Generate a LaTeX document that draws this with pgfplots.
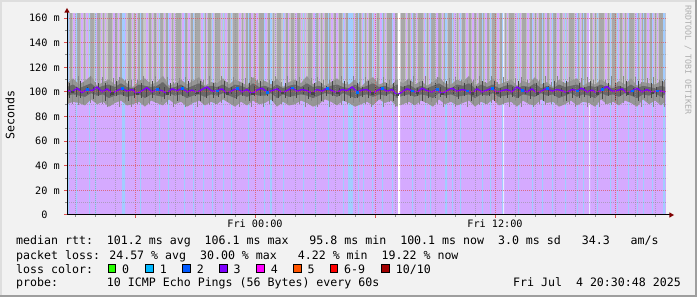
\documentclass[border=0pt]{standalone}
\usepackage{fontspec}
\usepackage{pgfplots}
\pgfplotsset{compat=1.18}
\usetikzlibrary{arrows.meta}
\newfontfamily\dvm{DejaVu Sans Mono}
\newcommand\legfont{\dvm\fontsize{11.6bp}{14bp}\selectfont}
\newcommand\axfont{\dvm\fontsize{10.2bp}{12bp}\selectfont}
\newcommand\wmfont{\dvm\fontsize{8.3bp}{10bp}\selectfont}
\definecolor{bgcol}{RGB}{242,242,242}
\definecolor{shadea}{RGB}{222,222,222}
\definecolor{shadeb}{RGB}{158,158,158}
\definecolor{lgray}{RGB}{200,200,200}
\definecolor{mgray}{RGB}{168,168,168}
\definecolor{purplebg}{RGB}{213,170,255}
\definecolor{bluebg}{RGB}{162,205,255}
\definecolor{lightst}{RGB}{232,236,255}
\definecolor{smokea}{RGB}{150,150,150}
\definecolor{smokeb}{RGB}{105,105,105}
\definecolor{spikel}{RGB}{135,135,135}
\definecolor{spiked}{RGB}{70,70,70}
\definecolor{medpurple}{RGB}{126,0,255}
\definecolor{medblue}{RGB}{0,110,255}
\definecolor{mgridc}{RGB}{222,80,80}
\definecolor{gridc}{RGB}{143,143,143}
\definecolor{arrowred}{RGB}{127,0,0}
\definecolor{wmgray}{RGB}{175,175,175}
\definecolor{lc0}{RGB}{38,255,0}
\definecolor{lc1}{RGB}{0,184,255}
\definecolor{lc2}{RGB}{0,89,255}
\definecolor{lc3}{RGB}{126,0,255}
\definecolor{lc4}{RGB}{255,0,255}
\definecolor{lc5}{RGB}{255,85,0}
\definecolor{lc6}{RGB}{255,0,0}
\definecolor{lc10}{RGB}{161,0,0}
\begin{document}
\begin{tikzpicture}
\fill[bgcol] (0,0) rectangle (697bp,297bp);
\fill[shadea] (0,0) rectangle (2bp,297bp);
\fill[shadea] (0,295bp) rectangle (697bp,297bp);
\fill[shadeb] (0,0) rectangle (697bp,2bp);
\fill[shadeb] (695bp,0) rectangle (697bp,297bp);
\begin{axis}[
  at={(67bp,82bp)}, anchor=south west,
  scale only axis, width=600bp, height=201bp,
  xmin=0, xmax=600, ymin=0, ymax=163.3,
  axis line style={draw=none},
  axis on top,
  xtick={68,188,308,428,548},
  xticklabels={,Fri 00:00,,Fri 12:00,},
  minor xtick={8,28,48,88,108,128,148,168,208,228,248,268,288,328,348,368,388,408,448,468,488,508,528,568,588},
  ytick={0,20,40,60,80,100,120,140,160},
  yticklabels={0\hphantom{~m},20 m,40 m,60 m,80 m,100 m,120 m,140 m,160 m},
  minor ytick={10,30,50,70,90,110,130,150},
  grid=both,
  major grid style={draw=mgridc, opacity=0.7, dash pattern=on 1bp off 1bp, line width=1bp},
  minor grid style={draw=gridc, opacity=0.55, dash pattern=on 1bp off 1bp, line width=1bp},
  tick align=outside, tick pos=left,
  major tick length=3bp, minor tick length=2bp,
  major tick style={draw=mgridc, line width=1bp},
  minor tick style={draw=gridc, line width=1bp},
  ticklabel style={font=\axfont},
  yticklabel style={inner sep=0pt, xshift=-4bp},
  xticklabel style={inner sep=0pt, yshift=-2bp},
]
% light gray base
\addplot[fill=lgray, draw=none] coordinates {(0,170)(599,170)} \closedcycle;
% mid gray smoke stripes
\addplot[const plot, fill=mgray, draw=none] coordinates {(0,0)(3,170)(5,0)(9,170)(13,0)(17,170)(18,0)(22,170)(27,0)(30,170)(33,0)(36,170)(37,0)(41,170)(45,0)(48,170)(50,0)(53,170)(56,0)(61,170)(64,0)(67,170)(68,0)(71,170)(76,0)(82,170)(84,0)(87,170)(89,0)(92,170)(96,0)(99,170)(101,0)(105,170)(106,0)(109,170)(114,0)(117,170)(120,0)(124,170)(126,0)(128,170)(133,0)(138,170)(139,0)(141,170)(144,0)(148,170)(153,0)(156,170)(157,0)(161,170)(163,0)(166,170)(171,0)(175,170)(176,0)(179,170)(184,0)(187,170)(188,0)(192,170)(197,0)(201,170)(203,0)(206,170)(207,0)(210,170)(214,0)(219,170)(221,0)(224,170)(227,0)(230,170)(233,0)(236,170)(237,0)(241,170)(245,0)(249,170)(251,0)(254,170)(255,0)(258,170)(263,0)(267,170)(269,0)(272,170)(275,0)(279,170)(281,0)(284,170)(286,0)(289,170)(294,0)(298,170)(299,0)(302,170)(306,0)(310,170)(312,0)(315,170)(317,0)(320,170)(325,0)(328,170)(330,0)(334,170)(338,0)(341,170)(343,0)(346,170)(348,0)(351,170)(356,0)(360,170)(361,0)(364,170)(368,0)(371,170)(374,0)(377,170)(378,0)(381,170)(386,0)(390,170)(391,0)(395,170)(398,0)(402,170)(404,0)(407,170)(409,0)(412,170)(417,0)(420,170)(422,0)(425,170)(429,0)(433,170)(435,0)(438,170)(439,0)(442,170)(447,0)(451,170)(452,0)(455,170)(459,0)(463,170)(465,0)(468,170)(469,0)(472,170)(477,0)(480,170)(482,0)(485,170)(489,0)(493,170)(495,0)(498,170)(499,0)(502,170)(507,0)(511,170)(512,0)(515,170)(519,0)(522,170)(525,0)(528,170)(529,0)(532,170)(537,0)(541,170)(542,0)(545,170)(549,0)(553,170)(555,0)(558,170)(559,0)(562,170)(567,0)(571,170)(572,0)(575,170)(579,0)(583,170)(585,0)(588,170)(589,0)(592,170)(596,0)(599,0)} \closedcycle;
% purple gaps
\addplot[const plot, fill=purplebg, draw=none] coordinates {(0,0)(1,170)(2,0)(6,170)(8,0)(14,170)(16,0)(19,170)(21,0)(28,170)(30,0)(34,170)(35,0)(38,170)(39,0)(46,170)(48,0)(51,170)(52,0)(57,170)(59,0)(65,170)(66,0)(69,170)(70,0)(79,170)(81,0)(85,170)(86,0)(90,170)(91,0)(97,170)(98,0)(102,170)(104,0)(107,170)(108,0)(115,170)(117,0)(121,170)(123,0)(126,170)(127,0)(134,170)(136,0)(139,170)(140,0)(145,170)(147,0)(154,170)(155,0)(158,170)(160,0)(164,170)(165,0)(172,170)(174,0)(177,170)(178,0)(184,170)(186,0)(189,170)(191,0)(198,170)(200,0)(204,170)(205,0)(208,170)(209,0)(216,170)(218,0)(221,170)(222,0)(228,170)(230,0)(234,170)(235,0)(238,170)(239,0)(246,170)(248,0)(252,170)(253,0)(256,170)(257,0)(264,170)(266,0)(269,170)(271,0)(276,170)(278,0)(282,170)(284,0)(287,170)(288,0)(295,170)(297,0)(300,170)(301,0)(307,170)(309,0)(313,170)(315,0)(318,170)(319,0)(326,170)(328,0)(332,170)(333,0)(339,170)(340,0)(344,170)(346,0)(349,170)(350,0)(357,170)(359,0)(362,170)(363,0)(369,170)(371,0)(375,170)(376,0)(379,170)(380,0)(387,170)(389,0)(392,170)(394,0)(399,170)(401,0)(405,170)(407,0)(410,170)(411,0)(418,170)(420,0)(423,170)(424,0)(430,170)(432,0)(436,170)(437,0)(440,170)(441,0)(448,170)(450,0)(453,170)(454,0)(460,170)(462,0)(466,170)(467,0)(470,170)(471,0)(478,170)(480,0)(483,170)(484,0)(490,170)(492,0)(496,170)(497,0)(500,170)(501,0)(508,170)(510,0)(513,170)(514,0)(520,170)(522,0)(526,170)(527,0)(530,170)(531,0)(538,170)(540,0)(543,170)(544,0)(550,170)(552,0)(556,170)(557,0)(560,170)(561,0)(568,170)(570,0)(573,170)(574,0)(580,170)(582,0)(586,170)(587,0)(590,170)(591,0)(597,170)(598,0)(599,0)} \closedcycle;
% lower loss-colour background
\addplot[fill=purplebg, draw=none] coordinates {(0,100)(599,100)} \closedcycle;
% loss 1 stripes
\addplot[const plot, fill=bluebg, draw=none] coordinates {(0,170)(2,0)(9,170)(10,0)(22,170)(23,0)(28,170)(29,0)(55,170)(58,0)(73,170)(74,0)(92,170)(93,0)(101,170)(102,0)(117,170)(118,0)(126,170)(127,0)(136,170)(137,0)(145,170)(146,0)(156,170)(157,0)(164,170)(165,0)(181,170)(182,0)(197,170)(198,0)(203,170)(205,0)(216,170)(217,0)(236,170)(237,0)(248,170)(249,0)(261,170)(262,0)(276,170)(277,0)(281,170)(286,0)(291,170)(292,0)(296,170)(297,0)(305,170)(306,0)(315,170)(316,0)(325,170)(326,0)(345,170)(346,0)(358,170)(359,0)(363,170)(364,0)(378,170)(380,0)(385,170)(386,0)(393,170)(394,0)(415,170)(416,0)(423,170)(424,0)(435,170)(436,0)(451,170)(452,0)(465,170)(466,0)(475,170)(476,0)(485,170)(486,0)(498,170)(499,0)(510,170)(511,0)(516,170)(517,0)(530,170)(531,0)(543,170)(544,0)(550,170)(551,0)(561,170)(562,0)(570,170)(571,0)(576,170)(577,0)(585,170)(586,0)(596,170)(598,0)(599,0)} \closedcycle;
\addplot[const plot, fill=lightst, draw=none] coordinates {(436,170)(437,0)(522,170)(523,0)(524,0)} \closedcycle;
% smoke, outer band
\addplot[fill=smokea, draw=none] coordinates {(0,107)(6,111)(12,106)(18,109)(24,113)(30,105)(36,108)(42,110)(48,106)(54,112)(60,107)(66,104)(72,109)(78,111)(84,106)(90,108)(96,113)(102,105)(108,107)(114,110)(120,106)(126,109)(132,112)(138,105)(144,108)(150,107)(156,111)(162,106)(168,110)(174,108)(180,105)(186,112)(192,107)(198,109)(204,106)(210,111)(216,104)(222,108)(228,110)(234,107)(240,113)(246,106)(252,109)(258,105)(264,108)(270,111)(276,107)(282,106)(288,110)(294,104)(300,109)(306,112)(312,106)(318,108)(324,105)(330,110)(336,107)(342,111)(348,106)(354,109)(360,105)(366,108)(372,112)(378,107)(384,106)(390,110)(396,108)(402,113)(408,105)(414,109)(420,107)(426,111)(432,106)(438,108)(444,110)(450,105)(456,109)(462,107)(468,112)(474,106)(480,108)(486,104)(492,110)(498,107)(504,109)(510,111)(516,105)(522,108)(528,106)(534,110)(540,107)(546,104)(552,109)(558,106)(564,111)(570,105)(576,108)(582,107)(588,106)(594,109)(598,108)
(598,92)(594,89)(588,93)(582,90)(576,94)(570,88)(564,91)(558,93)(552,89)(546,92)(540,90)(534,94)(528,88)(522,91)(516,92)(510,89)(504,93)(498,90)(492,88)(486,92)(480,91)(474,94)(468,89)(462,90)(456,93)(450,88)(444,92)(438,91)(432,89)(426,94)(420,90)(414,92)(408,88)(402,93)(396,91)(390,89)(384,92)(378,90)(372,94)(366,88)(360,91)(354,93)(348,89)(342,92)(336,90)(330,88)(324,93)(318,91)(312,94)(306,89)(300,92)(294,90)(288,88)(282,91)(276,93)(270,89)(264,92)(258,94)(252,90)(246,88)(240,91)(234,93)(228,90)(222,89)(216,92)(210,88)(204,94)(198,91)(192,90)(186,93)(180,89)(174,92)(168,88)(162,91)(156,94)(150,90)(144,92)(138,89)(132,93)(126,91)(120,88)(114,92)(108,90)(102,94)(96,89)(90,91)(84,93)(78,88)(72,92)(66,90)(60,89)(54,93)(48,91)(42,88)(36,92)(30,90)(24,94)(18,89)(12,91)(6,92)(0,90)} -- cycle;
% smoke, light spikes
\addplot[draw=none, mark=none, forget plot, error bars/.cd, y dir=both, y explicit, error mark=none, error bar style={draw=spikel, line width=1bp}] table[x=x, y=y, y error=e] {
x y e
5 100 10
11 101 12
16 99 9
23 102 11
28 100 8
35 101 11
40 98 10
46 102 9
52 100 12
58 101 9
64 99 11
70 100 10
76 101 12
82 99 9
88 102 11
94 100 8
100 101 11
106 98 10
112 102 9
118 100 12
124 101 9
130 99 11
136 100 10
142 101 12
148 99 9
154 102 11
160 100 8
166 101 11
172 98 10
178 102 9
184 100 12
190 101 9
196 99 11
202 100 10
208 101 12
214 99 9
220 102 11
226 100 8
232 101 11
238 98 10
244 102 9
250 100 12
256 101 9
262 99 11
268 100 10
274 101 12
280 99 9
286 102 11
292 100 8
298 101 11
304 98 10
310 102 9
316 100 12
322 101 9
328 99 11
340 100 10
346 101 12
352 99 9
358 102 11
364 100 8
370 101 11
376 98 10
382 102 9
388 100 12
394 101 9
400 99 11
406 100 10
412 101 12
418 99 9
424 102 11
430 100 8
436 101 11
442 98 10
448 102 9
454 100 12
460 101 9
466 99 11
472 100 10
478 101 12
484 99 9
490 102 11
496 100 8
502 101 11
508 98 10
514 102 9
520 100 12
526 101 9
532 99 11
538 100 10
544 101 12
550 99 9
556 102 11
562 100 8
568 101 11
574 98 10
580 102 9
586 100 12
592 101 9
597 99 11
};
% smoke, inner band
\addplot[fill=smokeb, draw=none] coordinates {(0,104)(6,106)(12,103)(18,105)(24,107)(30,103)(36,105)(42,106)(48,104)(54,107)(60,104)(66,103)(72,106)(78,105)(84,104)(90,105)(96,108)(102,103)(108,104)(114,106)(120,103)(126,105)(132,107)(138,104)(144,105)(150,104)(156,106)(162,103)(168,106)(174,105)(180,103)(186,107)(192,104)(198,105)(204,103)(210,106)(216,103)(222,105)(228,106)(234,104)(240,107)(246,104)(252,105)(258,103)(264,105)(270,106)(276,104)(282,103)(288,106)(294,103)(300,105)(306,107)(312,104)(318,105)(324,103)(330,106)(336,104)(342,106)(348,103)(354,105)(360,103)(366,105)(372,107)(378,104)(384,103)(390,106)(396,105)(402,107)(408,103)(414,106)(420,104)(426,106)(432,103)(438,105)(444,106)(450,103)(456,105)(462,104)(468,107)(474,103)(480,105)(486,103)(492,106)(498,104)(504,105)(510,106)(516,103)(522,105)(528,104)(534,106)(540,104)(546,103)(552,105)(558,103)(564,106)(570,103)(576,105)(582,104)(588,103)(594,105)(598,104)
(598,98)(594,96)(588,99)(582,97)(576,98)(570,95)(564,97)(558,99)(552,96)(546,98)(540,97)(534,99)(528,95)(522,97)(516,98)(510,96)(504,99)(498,97)(492,95)(486,98)(480,97)(474,99)(468,96)(462,97)(456,98)(450,95)(444,98)(438,97)(432,96)(426,99)(420,97)(414,98)(408,95)(402,98)(396,97)(390,96)(384,98)(378,97)(372,99)(366,95)(360,97)(354,98)(348,96)(342,98)(336,97)(330,95)(324,99)(318,97)(312,98)(306,96)(300,98)(294,97)(288,95)(282,97)(276,99)(270,96)(264,98)(258,99)(252,97)(246,95)(240,97)(234,98)(228,97)(222,96)(216,98)(210,95)(204,99)(198,97)(192,97)(186,98)(180,96)(174,98)(168,95)(162,97)(156,99)(150,97)(144,98)(138,96)(132,98)(126,97)(120,95)(114,98)(108,97)(102,99)(96,96)(90,97)(84,98)(78,95)(72,98)(66,97)(60,96)(54,98)(48,97)(42,95)(36,98)(30,97)(24,99)(18,96)(12,97)(6,98)(0,97)} -- cycle;
% smoke, dark spikes
\addplot[draw=none, mark=none, forget plot, error bars/.cd, y dir=both, y explicit, error mark=none, error bar style={draw=spiked, line width=1bp}] table[x=x, y=y, y error=e] {
x y e
2 101 6
9 100 4
13 102 7
20 101 3
26 99 5
31 102 5
38 100 7
43 101 4
49 103 6
56 100 3
61 101 8
67 99 4
74 101 6
79 100 4
85 102 7
92 101 3
97 99 5
103 102 5
110 100 7
115 101 4
121 103 6
128 100 3
133 101 8
139 99 4
146 101 6
151 100 4
157 102 7
164 101 3
169 99 5
175 102 5
182 100 7
187 101 4
193 103 6
200 100 3
205 101 8
211 99 4
218 101 6
223 100 4
229 102 7
236 101 3
241 99 5
247 102 5
254 100 7
259 101 4
265 103 6
272 100 3
277 101 8
283 99 4
290 101 6
295 100 4
301 102 7
308 101 3
313 99 5
319 102 5
326 100 7
337 101 4
343 103 6
350 100 3
355 101 8
361 99 4
368 101 6
373 100 4
379 102 7
386 101 3
391 99 5
397 102 5
404 100 7
409 101 4
415 103 6
422 100 3
427 101 8
433 99 4
440 101 6
445 100 4
451 102 7
458 101 3
463 99 5
469 102 5
476 100 7
481 101 4
487 103 6
494 100 3
499 101 8
505 99 4
512 101 6
517 100 4
523 102 7
530 101 3
535 99 5
541 102 5
548 100 7
553 101 4
559 103 6
566 100 3
571 101 8
577 99 4
584 101 6
589 100 4
595 102 7
};
% data gap
\addplot[const plot, fill=white, draw=none] coordinates {(331,170)(333,0)(334,0)} \closedcycle;
% median rtt
\addplot[medpurple, line width=1.4bp, line join=bevel] coordinates {(0,101.5)(5,100)(10,103)(15,99.5)(20,102)(25,101)(30,104)(35,100)(40,102.5)(45,99)(50,101)(55,103)(60,100.5)(65,102)(70,98.5)(75,101)(80,103.5)(85,100)(90,102)(95,101)(100,99)(105,102.5)(110,101)(115,103)(120,100)(125,101.5)(130,99.5)(135,102)(140,104)(145,100.5)(150,101)(155,102.5)(160,99)(165,101)(170,103)(175,100)(180,102)(185,98.5)(190,101.5)(195,103)(200,100)(205,101)(210,102.5)(215,99.5)(220,101)(225,103.5)(230,100.5)(235,102)(240,101)(245,99)(250,102)(255,100.5)(260,103)(265,101)(270,99.5)(275,102)(280,101)(285,104)(290,100)(295,101.5)(300,102)(305,99)(310,101)(315,103)(320,100.5)(325,102)(330,97.5)(335,100)(340,102.5)(345,101)(350,99.5)(355,103)(360,101)(365,100)(370,102)(375,98.5)(380,101)(385,103)(390,100.5)(395,102)(400,101)(405,99)(410,102.5)(415,100)(420,101.5)(425,103)(430,99.5)(435,101)(440,102)(445,100)(450,104)(455,101.5)(460,100)(465,102.5)(470,99)(475,101)(480,103)(485,100.5)(490,102)(495,101)(500,99.5)(505,102)(510,101)(515,103)(520,100)(525,101.5)(530,99)(535,102)(540,104.5)(545,100.5)(550,101)(555,102.5)(560,99)(565,101)(570,103)(575,100)(580,102)(585,99.5)(590,101)(595,100.5)(598,100)};
\addplot[only marks, mark=square*, mark size=0.9bp, color=medblue] coordinates {(20,102)(55,103)(90,102)(115,103)(150,101)(170,103)(200,100)(225,103.5)(260,103)(290,100)(315,103)(345,101)(370,102)(400,101)(425,103)(455,101.5)(480,103)(510,101)(535,102)(565,101)(590,101)};
\addplot[only marks, mark=square*, mark size=0.7bp, color=spiked] coordinates {(5,100)(45,99)(70,98.5)(100,99)(130,99.5)(160,99)(185,98.5)(215,99.5)(245,99)(270,99.5)(305,99)(330,97.5)(350,99.5)(375,98.5)(405,99)(430,99.5)(470,99)(500,99.5)(530,99)(560,99)(585,99.5)};
\end{axis}
% axis lines with arrows
\draw[black, line width=1bp] (67bp,82bp) -- (67bp,284.5bp);
\fill[arrowred] (64.3bp,284.3bp) -- (69.7bp,284.3bp) -- (67bp,289bp) -- cycle;
\draw[black, line width=1bp] (67bp,82bp) -- (669.5bp,82bp);
\fill[arrowred] (669.3bp,84.7bp) -- (669.3bp,79.3bp) -- (674bp,82bp) -- cycle;
% y label and watermark
\node[rotate=90, font=\legfont, inner sep=0pt] at (10bp,182bp) {Seconds};
\node[rotate=-90, font=\wmfont, text=wmgray, inner sep=0pt] at (688bp,237bp) {RRDTOOL / TOBI OETIKER};
% legend text
\node[anchor=base west, inner sep=0pt, font=\legfont] at (16bp,52bp) {median rtt:~~101.2 ms avg~~106.1 ms max~~~95.8 ms min~~100.1 ms now~~3.0 ms sd~~~34.3~~~am/s};
\node[anchor=base west, inner sep=0pt, font=\legfont] at (16bp,38bp) {packet loss: 24.57 \% avg~~30.00 \% max~~~4.22 \% min~~19.22 \% now};
\node[anchor=base west, inner sep=0pt, font=\legfont] at (16bp,24bp) {loss color:};
\foreach \lx/\lt/\lc in {108/0/lc0,145.7/1/lc1,182.7/2/lc2,219.3/3/lc3,256.7/4/lc4,293.3/5/lc5,330/6-9/lc6,381.7/10\slash 10/lc10}{
  \pgfmathsetmacro\rx{\lx+7.8}
  \pgfmathsetmacro\tx{\lx+14}
  \filldraw[fill=\lc, draw=black, line width=0.8bp] (\lx bp,24.6bp) rectangle (\rx bp,32.4bp);
  \node[anchor=base west, inner sep=0pt, font=\legfont] at (\tx bp,24bp) {\lt};
}
\node[anchor=base west, inner sep=0pt, font=\legfont] at (16bp,10.3bp) {probe:~~~~~~~10 ICMP Echo Pings (56 Bytes) every 60s};
\node[anchor=base east, inner sep=0pt, font=\legfont] at (681bp,10.3bp) {Fri Jul~~4 20:30:48 2025};
\pgfresetboundingbox
\path[use as bounding box] (0,0) rectangle (697bp,297bp);
\end{tikzpicture}
\end{document}
